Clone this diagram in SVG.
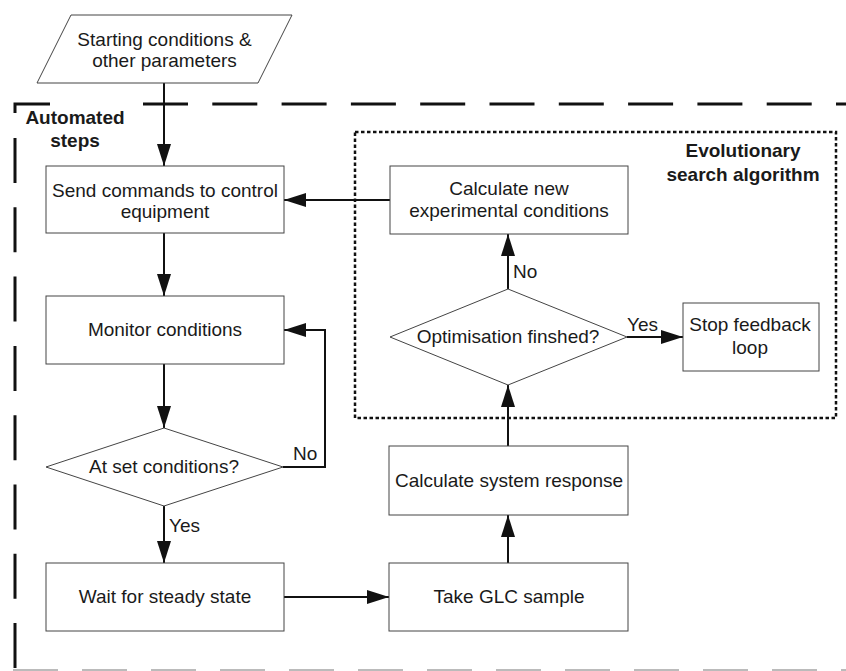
<svg xmlns="http://www.w3.org/2000/svg" width="846" height="671" viewBox="0 0 846 671">
<defs>
<marker id="ah" markerUnits="userSpaceOnUse" markerWidth="24" markerHeight="16" refX="22" refY="7" orient="auto" viewBox="0 0 24 16">
<path d="M0,0 L22,7 L0,14 z" fill="#111"/>
</marker>
<style>
.box{fill:#fff;stroke:#444;stroke-width:1}
.t{font-family:"Liberation Sans",Arial,sans-serif;font-size:19px;fill:#1a1a1a;text-anchor:middle}
.lb{font-family:"Liberation Sans",Arial,sans-serif;font-size:19px;fill:#1a1a1a}
.b{font-family:"Liberation Sans",Arial,sans-serif;font-size:19px;font-weight:bold;fill:#1a1a1a;text-anchor:middle}
.c{fill:none;stroke:#111;stroke-width:2;marker-end:url(#ah)}
.c0{fill:none;stroke:#111;stroke-width:2}
.dash{fill:none;stroke:#111;stroke-width:3;stroke-dasharray:45 24.3}
.dot{fill:none;stroke:#111;stroke-width:2.5;stroke-dasharray:3.5 2.5}
</style>
</defs>
<rect width="846" height="671" fill="#fff"/>
<g id="automated">
<path d="M15 113 V104 H50" fill="none" stroke="#111" stroke-width="3"/>
<path class="dash" d="M143 104 H846"/>
<path class="dash" d="M15 138 V668"/>
<path d="M13 670 H846" fill="none" stroke="#bbb" stroke-width="2" stroke-dasharray="45 24"/>
<text class="b" x="75" y="124">Automated</text>
<text class="b" x="75" y="147">steps</text>
</g>
<g id="evolutionary">
<rect class="dot" x="355" y="132" width="481" height="286"/>
<text class="b" x="743" y="157">Evolutionary</text>
<text class="b" x="743" y="181">search algorithm</text>
</g>
<g id="connectors">
<path class="c" d="M164 83 V166"/>
<path class="c" d="M390 200 H284"/>
<path class="c" d="M164 233 V296"/>
<path class="c" d="M164 364 V428"/>
<path class="c" d="M283 467 H325 V330 H284"/>
<path class="c" d="M164 506 V563"/>
<path class="c" d="M284 597 H389"/>
<path class="c" d="M508 563 V515"/>
<path class="c" d="M508 446 V385"/>
<path class="c" d="M508 289 V234"/>
<path class="c" d="M627 337 H683"/>
<text class="lb" x="293" y="460">No</text>
<text class="lb" x="169" y="532">Yes</text>
<text class="lb" x="513" y="278">No</text>
<text class="lb" x="627" y="331">Yes</text>
</g>
<g id="start">
<polygon class="box" points="71,15 292,15 258,83 37,83"/>
<text class="t" x="164.5" y="46">Starting conditions &amp;</text>
<text class="t" x="164.5" y="67">other parameters</text>
</g>
<g id="send">
<rect class="box" x="46" y="166" width="238" height="67"/>
<text class="t" x="165" y="197">Send commands to control</text>
<text class="t" x="165" y="218">equipment</text>
</g>
<g id="calcnew">
<rect class="box" x="390" y="166" width="238" height="68"/>
<text class="t" x="509" y="195">Calculate new</text>
<text class="t" x="509" y="217">experimental conditions</text>
</g>
<g id="monitor">
<rect class="box" x="46" y="296" width="238" height="68"/>
<text class="t" x="165" y="336">Monitor conditions</text>
</g>
<g id="setcond">
<polygon class="box" points="46,467 164,428 283,467 164,506"/>
<text class="t" x="164" y="473">At set conditions?</text>
</g>
<g id="wait">
<rect class="box" x="46" y="563" width="238" height="68"/>
<text class="t" x="165" y="603">Wait for steady state</text>
</g>
<g id="glc">
<rect class="box" x="389" y="563" width="239" height="68"/>
<text class="t" x="509" y="603">Take GLC sample</text>
</g>
<g id="calcresp">
<rect class="box" x="389" y="446" width="239" height="69"/>
<text class="t" x="509" y="487">Calculate system response</text>
</g>
<g id="optimisation">
<polygon class="box" points="390,337 508,289 627,337 508,385"/>
<text class="t" x="508" y="343">Optimisation finshed?</text>
</g>
<g id="stop">
<rect class="box" x="683" y="303" width="136" height="68"/>
<text class="t" x="750" y="331">Stop feedback</text>
<text class="t" x="750" y="354">loop</text>
</g>
</svg>
